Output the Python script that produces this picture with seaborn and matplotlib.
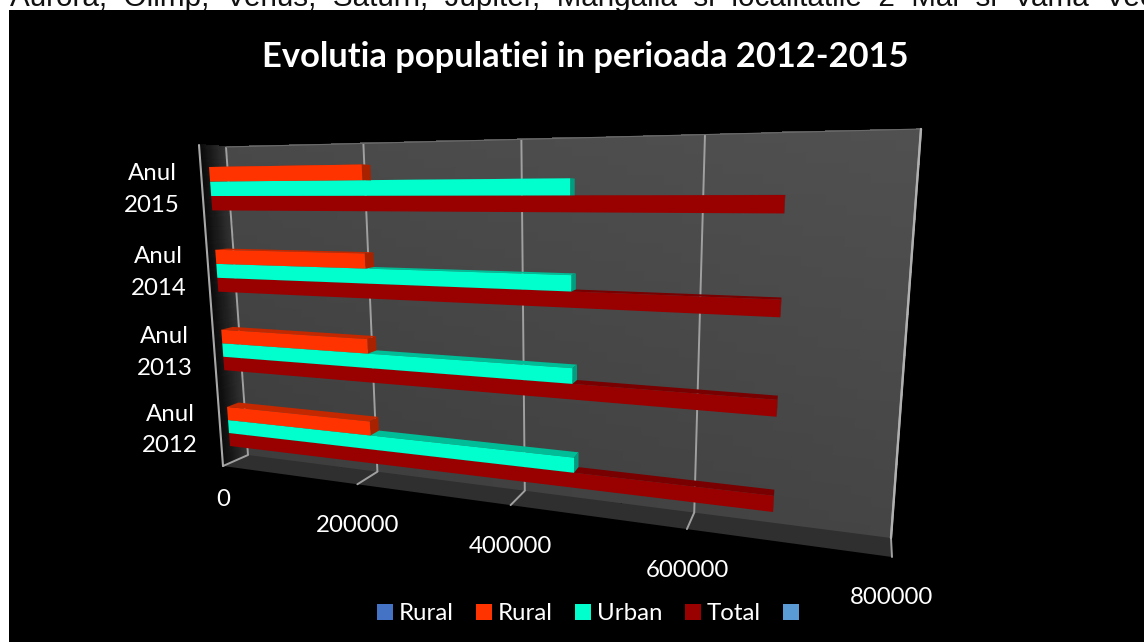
import numpy as np
import pandas as pd
import matplotlib
matplotlib.use("Agg")
import matplotlib.pyplot as plt
from matplotlib.patches import Patch, Polygon, Rectangle
from matplotlib.transforms import Transform
import seaborn as sns

# ---- data ----
years = ["Anul 2015", "Anul 2014", "Anul 2013", "Anul 2012"]
rural = [216000, 215000, 213500, 212000]
urban = [466000, 467500, 469000, 471000]
total = [683000, 684000, 685000, 686000]
value_ticks = [0, 200000, 400000, 600000, 800000]
series = ["Rural", "Urban", "Total"]
intro_text = "Aurora,  Olimp,  Venus,  Saturn,  Jupiter,  Mangalia  si  localitatile  2  Mai  si  Vama  Veche"
title_text = "Evolutia populatiei in perioada 2012-2015"

# ---- style ----
colors = {"Rural": "#FF3300", "Urban": "#00FFCC", "Total": "#990000"}
top_colors = {"Rural": "#C42800", "Urban": "#00BD97", "Total": "#780000"}
cap_colors = {"Rural": "#A82200", "Urban": "#009E80", "Total": "#700000"}
W, H = 1144, 642
FONT = "Lato"
VMAX = 800000.0
U0, U1 = -0.5, 3.5
GROUP = 0.52


def homography(src, dst):
    A, b = [], []
    for (x, y), (X, Y) in zip(src, dst):
        A.append([x, y, 1, 0, 0, 0, -x * X, -y * X]); b.append(X)
        A.append([0, 0, 0, x, y, 1, -x * Y, -y * Y]); b.append(Y)
    h = np.linalg.solve(np.array(A, float), np.array(b, float))
    return np.append(h, 1).reshape(3, 3)


class Persp(Transform):
    input_dims = output_dims = 2
    is_affine = False
    has_inverse = False

    def __init__(self, M):
        super().__init__()
        self.M = M

    def transform_non_affine(self, values):
        v = np.asarray(values, float)
        p = np.c_[v, np.ones(len(v))] @ self.M.T
        return p[:, :2] / p[:, 2:3]


plane = [(0, U0), (VMAX, U0), (VMAX, U1), (0, U1)]
wall = Persp(homography(plane, [(226, 147), (921, 129), (891, 538), (248, 455)]))
front = Persp(homography(plane, [(199, 145), (922, 130), (892, 557), (223, 466)]))
side = Persp(homography([(0, U0), (1, U0), (1, U1), (0, U1)],
                        [(199, 145), (226, 147), (248, 455), (223, 466)]))
g0, g1 = -GROUP / 2, 3 + GROUP / 2
face = Persp(homography(
    [(0, g0), (0, g1), (total[3], g1), (total[0], GROUP * 2 / 3 - GROUP / 2)],
    [(209, 167), (230, 446), (773, 512), (785, 195)]))

df = pd.DataFrame({
    "year": years * 3,
    "series": np.repeat(series, 4),
    "value": rural + urban + total,
})

sns.set_theme(style="white")
plt.rcParams["font.family"] = [FONT, "DejaVu Sans"]
fig = plt.figure(figsize=(W / 100, H / 100), dpi=100, facecolor="white")

# pixel-coordinate backdrop
bg = fig.add_axes([0, 0, 1, 1], zorder=0)
bg.set_xlim(0, W)
bg.set_ylim(H, 0)
bg.axis("off")
bg.set_autoscale_on(False)

# seaborn bars on a transparent axes above the backdrop
ax = fig.add_axes([0, 0, 1, 1], zorder=1)
sns.barplot(data=df, x="value", y="year", hue="series", hue_order=series, order=years,
            orient="y", palette=colors, width=GROUP, gap=0, saturation=1, legend=False,
            errorbar=None, ax=ax)
bars = list(ax.patches)
ax.set_autoscale_on(False)
ax.set_xlim(0, W)
ax.set_ylim(H, 0)
ax.axis("off")
ax.set_xlabel(""); ax.set_ylabel("")

# page background with chart panel
fig.text(10 / W, 1 - 6 / H, intro_text, family="Liberation Sans", fontsize=21.3, color="#111111",
         ha="left", va="baseline", zorder=-1)
bg.add_patch(Rectangle((9, 10), W - 9, H - 10, fc="black", ec="none", zorder=0.5))

# back wall
ve = np.linspace(0, VMAX, 41)
ue = np.linspace(U0, U1, 41)
vm, um = np.meshgrid((ve[:-1] + ve[1:]) / 2, (ue[:-1] + ue[1:]) / 2)
shade = 0.24 + 0.03 * vm / VMAX + 0.045 * (U1 - um) / (U1 - U0)
bg.pcolormesh(ve, ue, shade, cmap="gray", vmin=0, vmax=1, transform=wall + bg.transData,
              zorder=1, shading="flat", antialiased=False, edgecolors="face", linewidth=0.3)

# side wall
de = np.linspace(0, 1, 25)
se = np.linspace(U0, U1, 25)
dm, sm = np.meshgrid((de[:-1] + de[1:]) / 2, (se[:-1] + se[1:]) / 2)
bg.pcolormesh(de, se, 0.03 + 0.17 * dm, cmap="gray", vmin=0, vmax=1,
              transform=side + bg.transData, zorder=1, shading="flat", antialiased=False,
              edgecolors="face", linewidth=0.3)

# floor
pa = front.transform(np.array([(0, U1), (VMAX, U1)]))
pb = wall.transform(np.array([(VMAX, U1), (0, U1)]))
bg.add_patch(Polygon(np.r_[pa, pb], fc="#2f2f2f", ec="none", zorder=1.1))

# grid lines and floor ticks
gridc = "#a0a0a0"
for v in value_ticks:
    bg.plot([v, v], [U0, U1], color=gridc, lw=1.4, transform=wall + bg.transData, zorder=2,
            solid_capstyle="butt")
    a = wall.transform(np.array([(v, U1)]))[0]
    b = front.transform(np.array([(v, U1)]))[0]
    bg.plot([a[0], b[0]], [a[1], b[1]], color=gridc, lw=1.4, zorder=2)
# outer edge of the side wall and thin top edge of the wall
bg.plot([0, 0], [U0, U1], color="#a8a8a8", lw=1.5, transform=front + bg.transData, zorder=2)
bg.plot([0, VMAX], [U0, U0], color="#6a6a6a", lw=0.8, transform=wall + bg.transData, zorder=2)
bg.plot([VMAX, VMAX], [U0, U1], color="#b0b0b0", lw=1.7, transform=wall + bg.transData, zorder=2)

# bars: seaborn rectangles are re-projected; depth faces derive from them
VP = np.array([800.0, 190.0])
S = 0.02
n = len(years)
for i, rect in enumerate(bars):
    name = series[i // n]
    z = 10 - (i // n)
    x0, y0 = rect.get_x(), rect.get_y()
    w, h = rect.get_width(), rect.get_height()
    rect.set_transform(face + ax.transData)
    rect.set_zorder(z + 0.5)
    rect.set_linewidth(0)
    rect.set_clip_on(False)
    q = face.transform(np.array([(x0, y0), (x0 + w, y0), (x0 + w, y0 + h)], float))
    back = q + S * (VP - q)
    ax.add_patch(Polygon([q[0], q[1], back[1], back[0]], fc=top_colors[name], ec="none", zorder=z))
    ax.add_patch(Polygon([q[1], back[1], back[2], q[2]], fc=cap_colors[name], ec="none", zorder=z + 0.2))

# value labels
FS = 17.3
for v in value_ticks:
    drop = 34 if v == 0 else 41
    bg.annotate(str(v), xy=(v, U1), xycoords=front + bg.transData, xytext=(0, -drop * 0.72),
                textcoords="offset points", ha="center", va="center", color="white",
                fontsize=FS, zorder=20)
# category labels
for i, y in enumerate(years):
    bg.annotate(y.replace(" ", "\n"), xy=(0, i), xycoords=front + bg.transData,
                xytext=(-50 * 0.72, -2 * 0.72), textcoords="offset points", ha="center", va="center",
                color="white", fontsize=FS, linespacing=1.6, zorder=20)

# title
bg.text(585, 57, title_text, ha="center", va="center", color="white", fontsize=24.8,
        fontweight="bold", zorder=20)

# legend
handles = [Patch(fc="#4472C4", ec="none", label="Rural"),
           Patch(fc=colors["Rural"], ec="none", label="Rural"),
           Patch(fc=colors["Urban"], ec="none", label="Urban"),
           Patch(fc=colors["Total"], ec="none", label="Total"),
           Patch(fc="#5B9BD5", ec="none", label=" ")]
leg = bg.legend(handles=handles, ncol=5, frameon=False, fontsize=FS, labelcolor="white",
                handlelength=0.66, handleheight=0.66, handletextpad=0.25, columnspacing=0.92,
                loc="center", bbox_to_anchor=(594 / W, 1 - 614 / H), borderpad=0)
leg.set_zorder(20)

fig.savefig("out.png", dpi=100, facecolor="white")
